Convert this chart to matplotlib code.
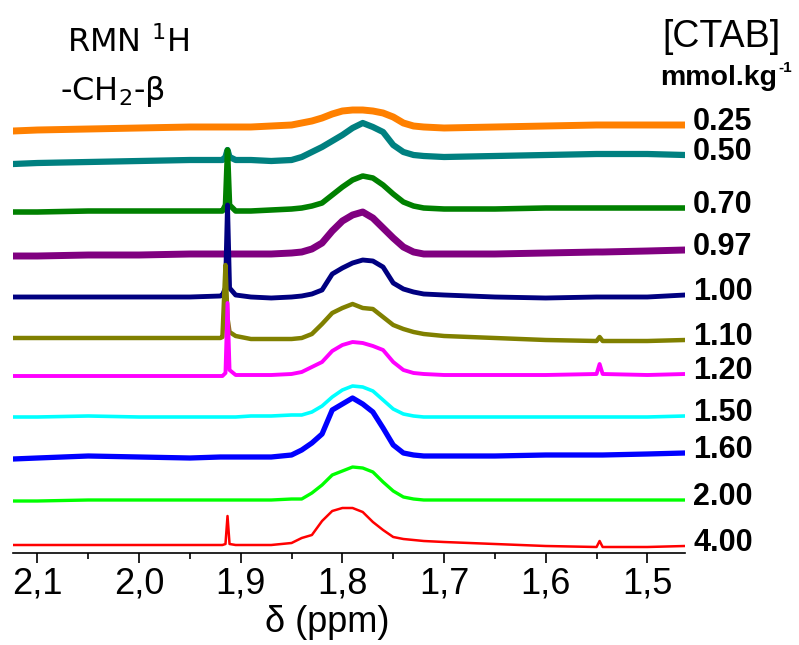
import matplotlib
matplotlib.use("Agg")
import matplotlib.pyplot as plt
import matplotlib.transforms as mtransforms
from matplotlib.ticker import MultipleLocator, FuncFormatter

plt.rcParams["font.family"] = ["Liberation Sans", "DejaVu Sans"]
plt.rcParams["mathtext.fontset"] = "dejavusans"

# ---------------------
# Data (-CH2-beta region)
# ---------------------
ppm = [2.124, 2.10, 2.05, 2.00, 1.95, 1.92, 1.918, 1.915, 1.913, 1.911, 1.905,
       1.89, 1.87, 1.85, 1.84, 1.83, 1.82, 1.81, 1.80, 1.79, 1.78, 1.77, 1.76,
       1.75, 1.74, 1.73, 1.72, 1.70, 1.65, 1.60, 1.55, 1.547, 1.544, 1.50, 1.463]

# stacked intensities (offset, arbitrary units), top trace first
s025 = [422, 423, 424, 425, 426, 426, 426, 426, 426, 426, 426, 426, 427, 428, 430, 432, 435, 439,
        442, 443, 443, 442, 440, 436, 430, 427, 426, 425, 426, 427, 428, 428, 428, 428, 428]
s050 = [389, 390, 391, 392, 393, 393, 393, 396, 403, 396, 393, 393, 392, 393, 396, 401, 406, 412,
        418, 425, 430, 426, 421, 408, 401, 398, 397, 396, 397, 398, 399, 399, 399, 399, 398]
s070 = [341, 341, 342, 342, 342, 342, 342, 348, 403, 348, 342, 342, 343, 344, 345, 347, 350, 358,
        366, 373, 377, 375, 368, 359, 351, 347, 345, 344, 344, 345, 345, 345, 345, 345, 345]
s097 = [297, 297, 298, 298, 299, 299, 299, 299, 299, 299, 299, 299, 299, 300, 301, 304, 310, 322,
        332, 338, 341, 335, 325, 315, 306, 301, 299, 299, 299, 300, 301, 301, 301, 302, 303]
s100 = [256, 256, 256, 256, 256, 257, 258, 265, 348, 265, 258, 256, 255, 256, 257, 259, 263, 279,
        285, 290, 293, 292, 286, 270, 264, 261, 259, 258, 256, 255, 256, 256, 256, 256, 258]
s110 = [215, 215, 215, 215, 215, 215, 216, 288, 235, 221, 217, 214, 214, 214, 215, 219, 229, 240,
        245, 249, 245, 244, 236, 228, 224, 221, 219, 217, 215, 213, 212, 216, 212, 212, 213]
s120 = [177, 177, 177, 177, 177, 177, 177, 180, 250, 183, 178, 178, 178, 179, 181, 186, 191, 202,
        208, 211, 210, 207, 203, 191, 183, 180, 179, 178, 178, 178, 179, 189, 179, 178, 179]
s150 = [136, 136, 137, 136, 136, 136, 136, 136, 136, 136, 136, 137, 137, 138, 138, 141, 147, 156,
        163, 167, 166, 162, 153, 144, 139, 137, 136, 136, 136, 136, 136, 136, 136, 136, 137]
s160 = [94, 95, 97, 96, 95, 96, 96, 96, 96, 96, 96, 96, 96, 98, 103, 110, 119, 143,
        149, 155, 149, 141, 125, 108, 100, 98, 97, 97, 97, 98, 98, 98, 98, 99, 100]
s200 = [52, 52, 53, 53, 53, 53, 53, 53, 53, 53, 53, 53, 53, 54, 54, 60, 68, 78,
        82, 86, 85, 81, 71, 62, 56, 54, 53, 53, 53, 53, 53, 53, 53, 53, 53]
s400 = [8, 8, 8, 8, 8, 8, 8, 9, 37, 9, 8, 8, 8, 10, 15, 18, 32, 42,
        45, 45, 41, 31, 23, 16, 14, 13, 12, 11, 9, 7, 6, 12, 6, 6, 7]

spectra = [s025, s050, s070, s097, s100, s110, s120, s150, s160, s200, s400]
conc = ["0.25", "0.50", "0.70", "0.97", "1.00", "1.10", "1.20", "1.50", "1.60", "2.00", "4.00"]

# ---------------------
# Styles
# ---------------------
colors = ["#ff8000", "#008080", "#008000", "#800080", "#000080", "#808000",
          "#ff00ff", "#00ffff", "#0000ff", "#00ff00", "#ff0000"]
widths = [5.0, 4.5, 4.0, 5.0, 3.5, 3.2, 2.8, 2.6, 3.8, 2.4, 1.8]

# ---------------------
# Plot
# ---------------------
fig = plt.figure(figsize=(7.99, 6.45), dpi=100)
ax = fig.add_axes([13 / 799, 92 / 645, 672 / 799, 458 / 645])

for y, c, lw in zip(spectra, colors, widths):
    ax.plot(ppm, y, color=c, lw=lw)

ax.set_xlim(2.124, 1.463)
ax.set_ylim(0, 458)

ax.xaxis.set_major_locator(MultipleLocator(0.1))
ax.xaxis.set_minor_locator(MultipleLocator(0.05))
ax.xaxis.set_major_formatter(FuncFormatter(lambda v, p: f"{v:.1f}".replace(".", ",")))
ax.tick_params(axis="x", which="major", length=7, width=1.2, labelsize=26, pad=3)
ax.tick_params(axis="x", which="minor", length=4.5, width=1.2)
ax.set_yticks([])
for s in ["left", "right", "top"]:
    ax.spines[s].set_visible(False)
ax.spines["bottom"].set_linewidth(1.2)

# concentration labels at right end of each trace
trans = mtransforms.blended_transform_factory(ax.transAxes, ax.transData)
for y, lab in zip(spectra, conc):
    ax.text(1.012, y[-1] + 3, lab, transform=trans, ha="left", va="center",
            fontsize=22, fontweight="bold", clip_on=False)

fig.text(327 / 799, 1 - 632 / 645, "δ (ppm)", ha="center", va="baseline", fontsize=26)

fig.text(67 / 799, 1 - 52 / 645, r"RMN $^{1}$H", ha="left", va="baseline",
         fontsize=23, family="DejaVu Sans")
fig.text(60 / 799, 1 - 100 / 645, r"-CH$_{2}$-β", ha="left", va="baseline",
         fontsize=23, family="DejaVu Sans")

fig.text(662 / 799, 1 - 47 / 645, "[CTAB]", ha="left", va="baseline", fontsize=27)
unit = fig.text(660 / 799, 1 - 85 / 645, "mmol.kg", ha="left", va="baseline",
                fontsize=20.5, fontweight="bold")

# superscript -1 just after the unit text
fig.canvas.draw()
bb = unit.get_window_extent()
fig.text((bb.x1 + 1) / 799, 1 - 72 / 645, "-1", ha="left", va="baseline",
         fontsize=11, fontweight="bold")

plt.savefig("out.png", dpi=100)
